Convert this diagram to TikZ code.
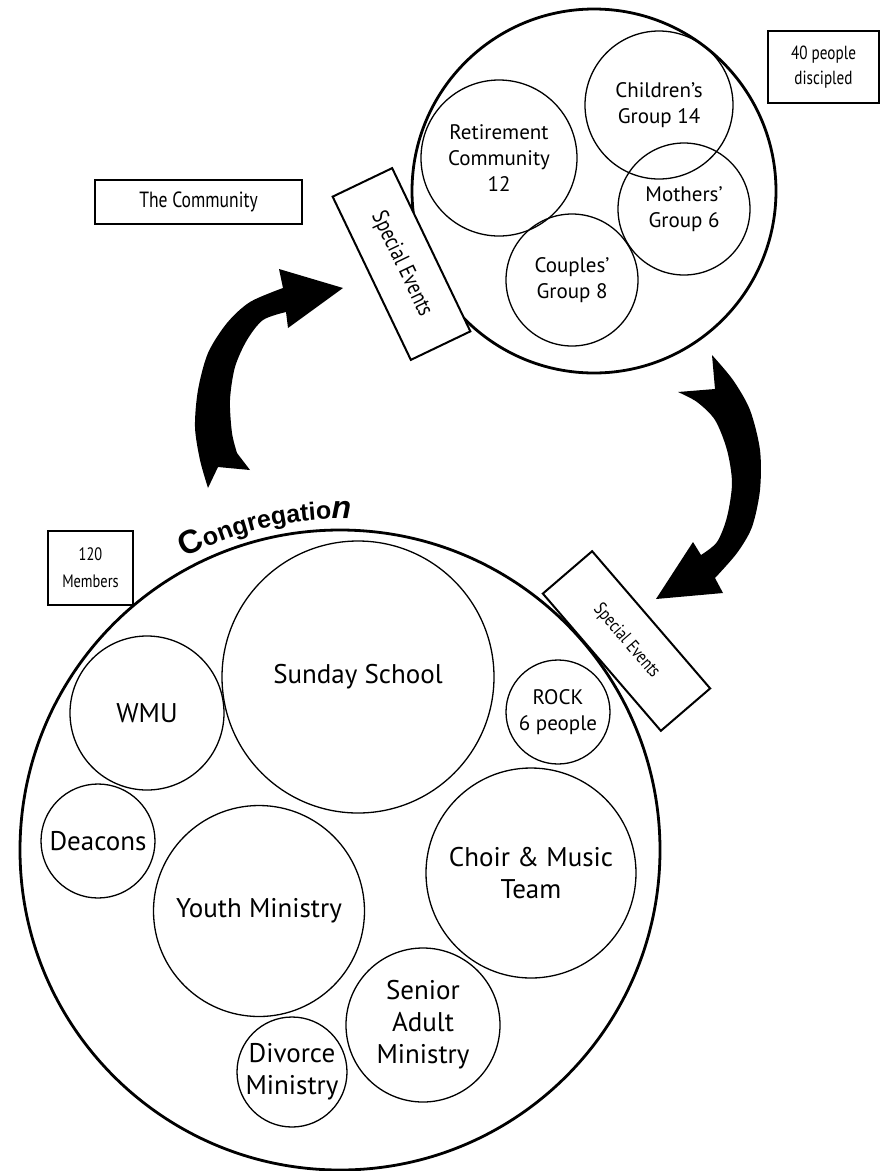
\documentclass[tikz,border=0pt]{standalone}
\usepackage{fontspec}
\setmainfont{PT Sans}
\newfontfamily\narrowfont[FakeStretch=0.8]{PT Sans}
\newfontfamily\congfont{Liberation Sans}
\usepackage{tikz}
\usetikzlibrary{shapes,decorations.text}

\begin{document}
\begin{tikzpicture}[x=1pt,y=-1pt,semithick]
\tikzstyle{ring}=[circle,draw,line width=2.8pt,inner sep=0pt]
\tikzstyle{group}=[circle,draw,line width=1.3pt,inner sep=0pt,align=center,font=\fontsize{27}{32}\selectfont]
\tikzstyle{small group}=[group,font=\fontsize{21}{26}\selectfont]
\tikzstyle{tag}=[draw,line width=2.4pt,inner sep=0pt,align=center,font=\narrowfont\fontsize{19}{25}\selectfont]
\tikzstyle{event}=[draw,fill=white,line width=2pt,inner sep=0pt,font=\narrowfont\fontsize{23}{25}\selectfont]
\useasboundingbox (0,0) rectangle (886,1171);

\node[ring,minimum size=364pt] (community) at (594,191) {};
\node[small group,minimum size=156pt] (retire) at (499,158) {Retirement\\Community\\12};
\node[small group,minimum size=148pt] (children) at (659,105) {Children’s\\Group 14};
\node[small group,minimum size=132pt] (mothers) at (684,209) {Mothers’\\Group 6};
\node[small group,minimum size=132pt] (couples) at (572,280) {Couples’\\Group 8};
\node[event,minimum width=181pt,minimum height=66pt,rotate=-64.4] (events1) at (401.5,264) {Special Events};
\node[tag,minimum width=111pt,minimum height=72pt] (discipled) at (823.5,67) {40 people\\discipled};
\node[tag,minimum width=207pt,minimum height=44pt,font=\narrowfont\fontsize{22}{25}\selectfont] (commlabel) at (198.5,202) {The Community};

\node[ring,minimum size=640pt] (cong) at (340,850) {};
\node[group,minimum size=272pt] (sunday) at (358,677) {Sunday School};
\node[group,minimum size=154pt] (wmu) at (147,713) {WMU};
\node[group,minimum size=114pt] (deacons) at (98,841) {Deacons};
\node[group,minimum size=211pt] (youth) at (259,911) {Youth Ministry};
\node[group,minimum size=110pt] (divorce) at (292,1072) {Divorce\\Ministry};
\node[group,minimum size=154pt] (senior) at (423,1025) {Senior\\Adult\\Ministry};
\node[group,minimum size=210pt] (choir) at (531,873) {Choir \& Music\\Team};
\node[small group,minimum size=104pt] (rock) at (558,712) {ROCK\\6 people};
\node[tag,minimum width=85pt,minimum height=74pt,font=\narrowfont\fontsize{18}{27}\selectfont] (members) at (90.5,568) {120\\Members};
\node[event,minimum width=181pt,minimum height=65pt,rotate=-49.3,font=\narrowfont\fontsize{18.5}{20}\selectfont] (events2) at (626.5,641) {Special Events};

\path[decorate,decoration={text along path,text align=center,
  text={|\congfont\bfseries\fontsize{33}{33}\selectfont|C|\congfont\bfseries\fontsize{25}{25}\selectfont|ongregatio|\congfont\bfseries\itshape\fontsize{32}{32}\selectfont|n}}]
  (cong.center) ++(-121:331) arc[start angle=-121,end angle=-85,radius=331];

\fill (343,288) -- (279,269)
  -- plot[smooth] coordinates {(283,288) (250,302) (227,323) (208,353) (198,390) (195,427) (200,460) (208,488)}
  -- (218,467) -- (250,470)
  -- plot[smooth] coordinates {(237,453) (232,433) (230,400) (235,367) (247,340) (263,320) (286,312)}
  -- (288,328) -- cycle;
\fill plot[smooth] coordinates {(712,355) (733,380) (750,410) (760,450) (760,490) (752,527) (737,553) (715,578)}
  -- (723,593) -- (656,599) -- (693,542)
  -- plot[smooth] coordinates {(701,555) (717,542) (727,517) (732,483) (727,450) (715,420) (697,402) (678,392)}
  -- (715,389) -- cycle;
\end{tikzpicture}
\end{document}
